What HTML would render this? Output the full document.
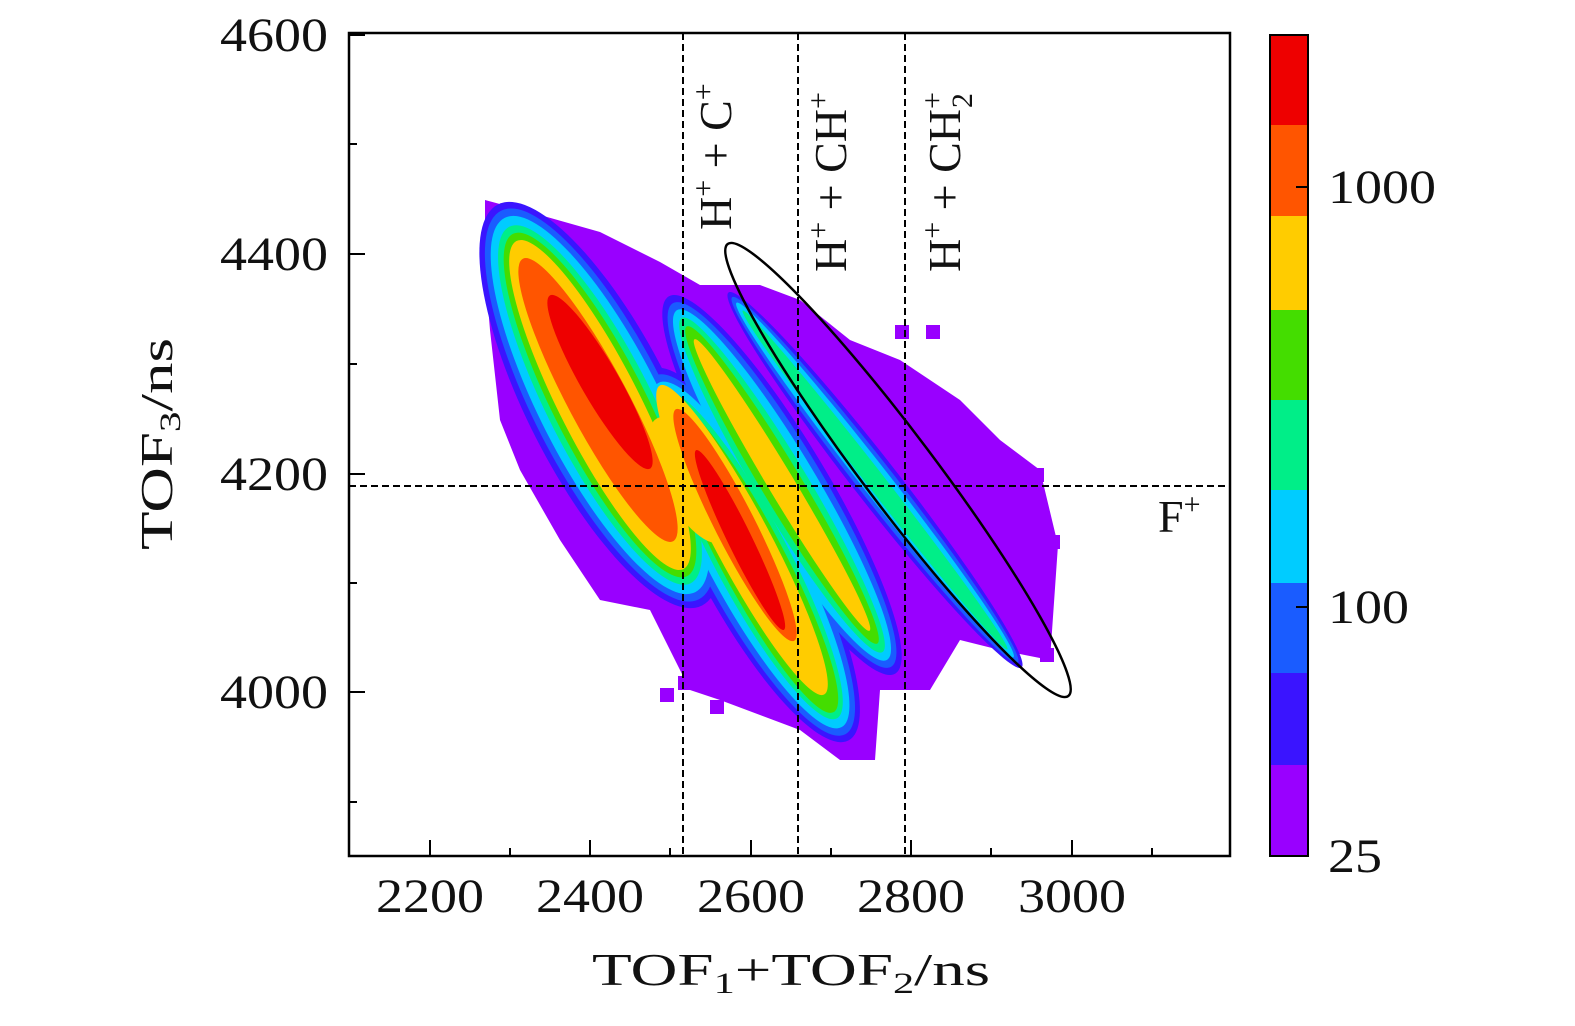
<!DOCTYPE html>
<html><head><meta charset="utf-8"><style>
body{margin:0;background:#fff}
svg text{font-family:"Liberation Serif",serif;fill:#111}
</style></head><body>
<svg width="1575" height="1021" viewBox="0 0 1575 1021" xmlns="http://www.w3.org/2000/svg">
<defs>
<clipPath id="cp"><rect x="349" y="33" width="881" height="823"/></clipPath>
</defs>
<g clip-path="url(#cp)">
<polygon fill="#9900ff" points="485,200 540,215 600,232 660,262 700,285 760,285 800,300 850,340 900,360 960,400 1000,440 1040,470 1058,545 1050,660 1000,650 960,640 930,690 880,690 875,760 840,760 800,730 760,715 720,700 690,690 650,610 600,600 560,540 520,470 500,420 490,330 485,270"/>
<rect x="660" y="688" width="14" height="14" fill="#9900ff"/>
<rect x="678" y="676" width="14" height="14" fill="#9900ff"/>
<rect x="710" y="700" width="14" height="14" fill="#9900ff"/>
<rect x="895" y="325" width="14" height="14" fill="#9900ff"/>
<rect x="926" y="325" width="14" height="14" fill="#9900ff"/>
<rect x="1030" y="468" width="14" height="14" fill="#9900ff"/>
<rect x="1046" y="535" width="14" height="14" fill="#9900ff"/>
<rect x="990" y="500" width="14" height="14" fill="#9900ff"/>
<rect x="880" y="676" width="14" height="14" fill="#9900ff"/>
<rect x="1040" y="648" width="14" height="14" fill="#9900ff"/>
<g fill="#3a14ff">
<ellipse transform="translate(600,405) rotate(63)" rx="225" ry="72"/>
<ellipse transform="translate(750,555) rotate(62)" rx="210" ry="55"/>
<ellipse transform="translate(782,485) rotate(59)" rx="220" ry="45"/>
<ellipse transform="translate(875,480) rotate(52)" rx="238" ry="22"/>
</g>
<g fill="#1a5cff">
<ellipse transform="translate(600,405) rotate(63)" rx="218" ry="66"/>
<ellipse transform="translate(750,555) rotate(62)" rx="203" ry="50"/>
<ellipse transform="translate(782,485) rotate(59)" rx="212" ry="40"/>
<ellipse transform="translate(875,480) rotate(52)" rx="232" ry="18"/>
</g>
<g fill="#00ccff">
<ellipse transform="translate(600,405) rotate(63)" rx="210" ry="60"/>
<ellipse transform="translate(750,555) rotate(62)" rx="195" ry="44"/>
<ellipse transform="translate(782,485) rotate(59)" rx="204" ry="34"/>
<ellipse transform="translate(875,480) rotate(52)" rx="225" ry="14"/>
</g>
<g fill="#00ee88">
<ellipse transform="translate(600,405) rotate(63)" rx="200" ry="52"/>
<ellipse transform="translate(750,555) rotate(62)" rx="185" ry="37"/>
<ellipse transform="translate(782,485) rotate(59)" rx="195" ry="26"/>
<ellipse transform="translate(875,480) rotate(52)" rx="215" ry="9"/>
</g>
<g fill="#44dd00">
<ellipse transform="translate(600,405) rotate(63)" rx="192" ry="46"/>
<ellipse transform="translate(750,555) rotate(62)" rx="178" ry="32"/>
<ellipse transform="translate(782,485) rotate(59)" rx="185" ry="20"/>
</g>
<g fill="#ffcc00">
<ellipse transform="translate(600,405) rotate(63)" rx="184" ry="40"/>
<ellipse transform="translate(742,540) rotate(62)" rx="175" ry="28"/>
<ellipse transform="translate(782,485) rotate(59)" rx="170" ry="13"/>
<ellipse transform="translate(690,480) rotate(62)" rx="70" ry="28"/>
</g>
<g fill="#ff5500">
<ellipse transform="translate(598,400) rotate(62)" rx="160" ry="30"/>
<ellipse transform="translate(735,525) rotate(63)" rx="130" ry="20"/>
</g>
<g fill="#ee0000">
<ellipse transform="translate(600,382) rotate(60)" rx="100" ry="19"/>
<ellipse transform="translate(740,540) rotate(64)" rx="100" ry="12"/>
</g>
<g transform="translate(898,470) rotate(53)"><ellipse rx="283" ry="36" fill="none" stroke="#000" stroke-width="2.5"/></g>
</g>
<g stroke="#000" stroke-width="2" stroke-dasharray="7,4">
<line x1="683" y1="33" x2="683" y2="856"/>
<line x1="798" y1="33" x2="798" y2="856"/>
<line x1="905" y1="33" x2="905" y2="856"/>
<line x1="349" y1="486" x2="1230" y2="486"/>
</g>
<rect x="349" y="33" width="881" height="823" fill="none" stroke="#000" stroke-width="2.5"/>
<g stroke="#000" stroke-width="2">
<line x1="430" y1="856" x2="430" y2="840"/><line x1="590" y1="856" x2="590" y2="840"/><line x1="751" y1="856" x2="751" y2="840"/><line x1="911" y1="856" x2="911" y2="840"/><line x1="1072" y1="856" x2="1072" y2="840"/>
<line x1="510" y1="856" x2="510" y2="848"/><line x1="670" y1="856" x2="670" y2="848"/><line x1="831" y1="856" x2="831" y2="848"/><line x1="991" y1="856" x2="991" y2="848"/><line x1="1152" y1="856" x2="1152" y2="848"/>
<line x1="349" y1="35" x2="365" y2="35"/><line x1="349" y1="254" x2="365" y2="254"/><line x1="349" y1="474" x2="365" y2="474"/><line x1="349" y1="692" x2="365" y2="692"/>
<line x1="349" y1="144" x2="357" y2="144"/><line x1="349" y1="364" x2="357" y2="364"/><line x1="349" y1="583" x2="357" y2="583"/><line x1="349" y1="802" x2="357" y2="802"/>
</g>
<g font-size="48" text-anchor="middle">
<text x="430" y="912" textLength="108" lengthAdjust="spacingAndGlyphs">2200</text><text x="590" y="912" textLength="108" lengthAdjust="spacingAndGlyphs">2400</text><text x="751" y="912" textLength="108" lengthAdjust="spacingAndGlyphs">2600</text><text x="911" y="912" textLength="108" lengthAdjust="spacingAndGlyphs">2800</text><text x="1072" y="912" textLength="108" lengthAdjust="spacingAndGlyphs">3000</text>
</g>
<g font-size="48">
<text x="220" y="51" textLength="108" lengthAdjust="spacingAndGlyphs">4600</text><text x="220" y="270" textLength="108" lengthAdjust="spacingAndGlyphs">4400</text><text x="220" y="490" textLength="108" lengthAdjust="spacingAndGlyphs">4200</text><text x="220" y="708" textLength="108" lengthAdjust="spacingAndGlyphs">4000</text>
</g>
<text x="592" y="985" font-size="46" textLength="398" lengthAdjust="spacingAndGlyphs">TOF<tspan font-size="30" dy="8">1</tspan><tspan dy="-8">+TOF</tspan><tspan font-size="30" dy="8">2</tspan><tspan dy="-8">/ns</tspan></text>
<text transform="translate(172,550) rotate(-90)" font-size="46" textLength="212" lengthAdjust="spacingAndGlyphs">TOF<tspan font-size="30" dy="8">3</tspan><tspan dy="-8">/ns</tspan></text>
<g font-size="46">
<text transform="translate(731,230) rotate(-90)">H<tspan font-size="30" dy="-18">+</tspan><tspan dy="18"> + C</tspan><tspan font-size="30" dy="-18">+</tspan></text>
<text transform="translate(846,272) rotate(-90)">H<tspan font-size="30" dy="-18">+</tspan><tspan dy="18"> + CH</tspan><tspan font-size="30" dy="-18">+</tspan></text>
<text transform="translate(960,272) rotate(-90)">H<tspan font-size="30" dy="-18">+</tspan><tspan dy="18"> + CH</tspan><tspan font-size="30" dy="-18">+</tspan><tspan font-size="30" dx="-16" dy="30">2</tspan></text>
<text x="1158" y="532">F<tspan font-size="30" dy="-18">+</tspan></text>
</g>
<rect x="1270" y="35" width="38" height="91" fill="#ee0000"/>
<rect x="1270" y="125" width="38" height="91" fill="#ff5500"/>
<rect x="1270" y="216" width="38" height="95" fill="#ffcc00"/>
<rect x="1270" y="310" width="38" height="91" fill="#44dd00"/>
<rect x="1270" y="400" width="38" height="91" fill="#00ee88"/>
<rect x="1270" y="490" width="38" height="94" fill="#00ccff"/>
<rect x="1270" y="583" width="38" height="91" fill="#1a5cff"/>
<rect x="1270" y="673" width="38" height="93" fill="#3a14ff"/>
<rect x="1270" y="765" width="38" height="91" fill="#9900ff"/>
<rect x="1270" y="35" width="38" height="821" fill="none" stroke="#000" stroke-width="2"/>
<g stroke="#000" stroke-width="2"><line x1="1296" y1="187" x2="1308" y2="187"/><line x1="1296" y1="607" x2="1308" y2="607"/></g>
<g font-size="48"><text x="1328" y="203" textLength="108" lengthAdjust="spacingAndGlyphs">1000</text><text x="1328" y="623" textLength="81" lengthAdjust="spacingAndGlyphs">100</text><text x="1328" y="872" textLength="54" lengthAdjust="spacingAndGlyphs">25</text></g>
</svg>
</body></html>
